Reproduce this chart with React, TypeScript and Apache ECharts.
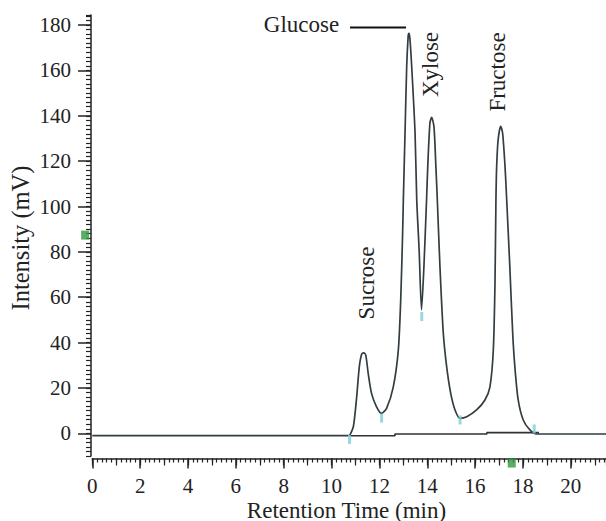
import React, { useEffect, useRef } from "react";
import * as echarts from "echarts";

// Chromatogram trace: retention time (min) and intensity (mV)
const traceTime = [
  0, 10.75, 10.77, 10.91, 11.05, 11.16, 11.26, 11.35, 11.43, 11.53, 11.67, 11.88, 12.09,
  12.3, 12.58, 12.79, 12.89, 12.97, 13.0, 13.07, 13.14, 13.2, 13.23, 13.27, 13.35, 13.49,
  13.56, 13.66, 13.76, 13.86, 13.97, 14.02, 14.11, 14.18, 14.28, 14.36, 14.42, 14.53,
  14.67, 14.81, 14.98, 15.16, 15.37, 15.65, 16.06, 16.41, 16.62, 16.76, 16.83, 16.87,
  16.9, 16.96, 17.07, 17.15, 17.25, 17.32, 17.45, 17.57, 17.66, 17.8, 18.01, 18.29,
  18.57, 21.47,
];
const traceIntensity = [
  -1, -1, -1, 2.9, 16.1, 29.4, 35, 35.5, 34.5, 26.5, 17.6, 11.7, 8.8,
  11, 20.5, 36.7, 58.8, 88.2, 102.9, 132.3, 161.6, 174.9, 176.4, 174.5, 161.6, 132.3,
  102.9, 80.8, 54.4, 73.5, 102.9, 117.6, 136.7, 139.3, 135.2, 117.6, 102.9, 73.5,
  44.1, 29.4, 17.6, 10.3, 6.6, 7.3, 10.3, 14.7, 20.5, 36.7, 66.1, 102.9,
  117.6, 129.3, 135.5, 132.3, 117.6, 102.9, 73.5, 44.1, 29.4, 14.7, 5.9, 1.5,
  -0.3, -0.3,
];

// Integration baselines drawn under the peaks
const baseTime = [10.77, 12.65, 12.65, 16.49, 16.49, 18.67];
const baseIntensity = [-1.05, -1.05, -0.3, -0.3, 0.3, 0.3];

// Peak boundary markers (cyan)
const markTime = [10.75, 12.09, 13.77, 15.37, 18.47];
const markIntensity = [-2.7, 6.7, 51.5, 5.9, 1.9];

// Cursor markers (green)
const cursorTime = [-0.3, 17.53];
const cursorIntensity = [87.4, -13.1];

const xTickLabels = [0, 2, 4, 6, 8, 10, 12, 14, 16, 18, 20];
const yTickLabels = [0, 20, 40, 60, 80, 100, 120, 140, 160, 180];

const peakNames = ["Glucose", "Sucrose", "Xylose", "Fructose"];
const xTitle = "Retention Time (min)";
const yTitle = "Intensity (mV)";

const X_MIN = 0;
const X_MAX = 21.47;
const Y_MIN = -10;
const Y_MAX = 184.4;

const FONT = "'Liberation Serif', 'Times New Roman', serif";
const INK = "#222";

export default function App() {
  const ref = useRef<HTMLDivElement>(null);

  useEffect(() => {
    if (!ref.current) return;
    const chart = echarts.init(ref.current, undefined, { renderer: "svg" });

    const zip = (a: number[], b: number[]) => a.map((v, i) => [v, b[i]]);

    const baseX = {
      type: "value" as const,
      min: X_MIN,
      max: X_MAX,
      position: "bottom" as const,
      offset: 2.5,
      splitLine: { show: false },
    };
    const baseY = {
      type: "value" as const,
      min: Y_MIN,
      max: Y_MAX,
      position: "left" as const,
      offset: 1.3,
      splitLine: { show: false },
    };

    chart.setOption({
      animation: false,
      backgroundColor: "#fff",
      grid: { left: 92.3, top: 433.3 - Y_MAX * 2.268, right: 0, bottom: 521 - 456 },
      xAxis: [
        {
          ...baseX,
          axisLine: { show: true, onZero: false, lineStyle: { color: INK, width: 1.5 } },
          axisTick: { show: true, customValues: xTickLabels, length: 10, lineStyle: { color: INK, width: 1.5 } },
          axisLabel: {
            customValues: xTickLabels,
            margin: 17,
            fontSize: 21,
            fontFamily: FONT,
            color: INK,
          },
        },
        {
          ...baseX,
          interval: 1,
          axisLine: { show: false, onZero: false },
          axisTick: { show: true, length: 7, lineStyle: { color: INK, width: 1.2 } },
          axisLabel: { show: false },
        },
        {
          ...baseX,
          interval: 0.2,
          axisLine: { show: false, onZero: false },
          axisTick: { show: true, length: 4, lineStyle: { color: INK, width: 1.2 } },
          axisLabel: { show: false },
        },
      ],
      yAxis: [
        {
          ...baseY,
          axisLine: { show: true, onZero: false, lineStyle: { color: INK, width: 1.5 } },
          axisTick: { show: true, customValues: yTickLabels, length: 13, lineStyle: { color: INK, width: 1.5 } },
          axisLabel: {
            customValues: yTickLabels,
            margin: 20,
            fontSize: 21,
            fontFamily: FONT,
            color: INK,
          },
        },
        {
          ...baseY,
          interval: 2,
          axisLine: { show: false, onZero: false },
          axisTick: { show: true, length: 5, lineStyle: { color: INK, width: 1.2 } },
          axisLabel: { show: false },
        },
      ],
      series: [
        {
          type: "line",
          data: zip(baseTime, baseIntensity),
          showSymbol: false,
          lineStyle: { color: "#2b3338", width: 1.6 },
          z: 2,
        },
        {
          type: "line",
          data: zip(traceTime, traceIntensity),
          showSymbol: false,
          smooth: 0.25,
          lineStyle: { color: "#333d42", width: 1.7 },
          z: 3,
        },
        {
          type: "scatter",
          data: zip(markTime, markIntensity),
          symbol: "rect",
          symbolSize: [3, 9],
          itemStyle: { color: "#7fd0d4" },
          z: 4,
        },
        {
          type: "scatter",
          data: zip(cursorTime, cursorIntensity),
          symbol: "rect",
          symbolSize: [8, 9],
          clip: false,
          itemStyle: { color: "#2e9a3c" },
          z: 5,
        },
      ],
      graphic: [
        {
          type: "text",
          x: 301.5,
          y: 24,
          style: { text: peakNames[0], font: `23px ${FONT}`, fill: INK, align: "center", verticalAlign: "middle" },
        },
        {
          type: "line",
          shape: { x1: 350, y1: 27.5, x2: 406, y2: 27.5 },
          style: { stroke: "#111", lineWidth: 2.2 },
        },
        {
          type: "text",
          x: 366,
          y: 283,
          rotation: Math.PI / 2,
          style: { text: peakNames[1], font: `23px ${FONT}`, fill: INK, align: "center", verticalAlign: "middle" },
        },
        {
          type: "text",
          x: 430.7,
          y: 64.5,
          rotation: Math.PI / 2,
          style: { text: peakNames[2], font: `23px ${FONT}`, fill: INK, align: "center", verticalAlign: "middle" },
        },
        {
          type: "text",
          x: 497.3,
          y: 72,
          rotation: Math.PI / 2,
          style: { text: peakNames[3], font: `23px ${FONT}`, fill: INK, align: "center", verticalAlign: "middle" },
        },
        {
          type: "text",
          x: 20,
          y: 238,
          rotation: Math.PI / 2,
          style: { text: yTitle, font: `24.5px ${FONT}`, fill: INK, align: "center", verticalAlign: "middle" },
        },
        {
          type: "text",
          x: 346.5,
          y: 510,
          style: { text: xTitle, font: `23px ${FONT}`, fill: INK, align: "center", verticalAlign: "middle" },
        },
      ],
    });

    return () => chart.dispose();
  }, []);

  return (
    <div
      ref={ref}
      style={{ position: "fixed", left: 0, top: 0, width: 606, height: 521 }}
    />
  );
}
